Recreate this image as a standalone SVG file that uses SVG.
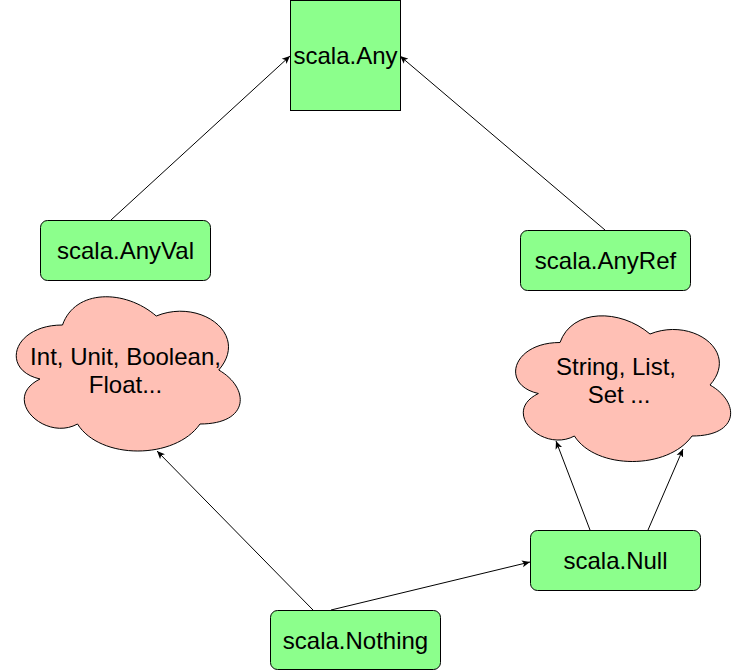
<svg xmlns="http://www.w3.org/2000/svg" width="741" height="671" viewBox="0 0 741 671">
<style>
.box{fill:#8CFF8C;stroke:#000;stroke-width:1}
.cloud{fill:#FFC0B5;stroke:#000;stroke-width:1}
.lbl{font-family:"Liberation Sans",Arial,sans-serif;font-size:24px;fill:#000;text-anchor:middle}
.edge{fill:none;stroke:#000;stroke-width:1}
</style>
<defs>
<marker id="arr" viewBox="0 0 8 8" refX="8" refY="4" markerWidth="8" markerHeight="8" markerUnits="userSpaceOnUse" orient="auto">
<path d="M0,0.5 L8,4 L0,7.5 L2,4 Z" fill="#000"/>
</marker>
</defs>
<rect width="741" height="671" fill="#fff"/>
<g id="connectors">
<line class="edge" x1="111" y1="220" x2="290" y2="56" marker-end="url(#arr)"/>
<line class="edge" x1="605" y1="230" x2="400" y2="56" marker-end="url(#arr)"/>
<line class="edge" x1="313" y1="610" x2="157" y2="451" marker-end="url(#arr)"/>
<line class="edge" x1="331" y1="610" x2="530" y2="562" marker-end="url(#arr)"/>
<line class="edge" x1="590" y1="530" x2="556" y2="441" marker-end="url(#arr)"/>
<line class="edge" x1="648" y1="530" x2="683" y2="449" marker-end="url(#arr)"/>
</g>
<g id="any">
<rect class="box" x="290.5" y="0.5" width="110" height="110"/>
<text class="lbl" x="345.5" y="64">scala.Any</text>
</g>
<g id="anyval">
<rect class="box" x="40.5" y="220.5" width="170" height="60" rx="7"/>
<text class="lbl" x="125.5" y="259">scala.AnyVal</text>
</g>
<g id="anyref">
<rect class="box" x="520.5" y="230.5" width="170" height="60" rx="7"/>
<text class="lbl" x="605.5" y="269">scala.AnyRef</text>
</g>
<g id="valcloud">
<path class="cloud" d="M62.5,325 C12.5,325 0,370 40,379 C0,398.8 45,442 77.5,424 C100,460 175,460 200,424 C250,424 250,388 218.75,370 C250,334 200,298 156.25,316 C125,289 75,289 62.5,325 Z"/>
<text class="lbl" x="125.5" y="365">Int, Unit, Boolean,</text>
<text class="lbl" x="125.5" y="393">Float...</text>
</g>
<g id="refcloud">
<path class="cloud" d="M560,342.5 C512,342.5 500,385 538.4,393.5 C500,412.2 543.2,453 574.4,436 C596,470 668,470 692,436 C740,436 740,402 710,385 C740,351 692,317 650,334 C620,308.5 572,308.5 560,342.5 Z"/>
<text class="lbl" x="616" y="375">String, List,</text>
<text class="lbl" x="619" y="403">Set ...</text>
</g>
<g id="null">
<rect class="box" x="530.5" y="530.5" width="170" height="60" rx="7"/>
<text class="lbl" x="615.5" y="569">scala.Null</text>
</g>
<g id="nothing">
<rect class="box" x="270.5" y="610.5" width="170" height="59" rx="7"/>
<text class="lbl" x="355.5" y="649">scala.Nothing</text>
</g>
</svg>
